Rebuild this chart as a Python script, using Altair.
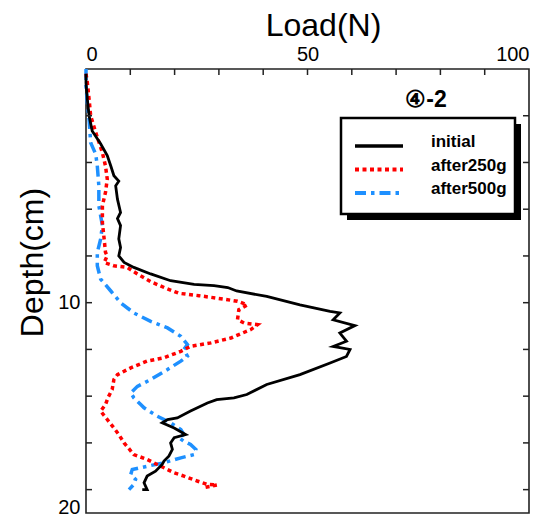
import altair as alt
import pandas as pd

# ---------------- data ----------------
series_names = ["initial", "after250g", "after500g"]
series_colors = ["#000000", "#FF0000", "#1E90FF"]

initial_load = [0.0, 0.0, 0.3, 0.7, 1.4, 3.3, 4.8, 5.6, 6.3, 7.4, 6.7, 7.1, 7.8, 7.1, 7.8,
                7.4, 7.8, 7.4, 8.6, 10.8, 14.6, 19.1, 24.4, 28.9, 32.0, 34.0, 40.8, 48.3,
                55.1, 57.3, 55.8, 60.7, 57.3, 58.8, 55.8, 59.6, 58.8, 55.1, 48.3, 40.8,
                36.3, 33.4, 29.5, 27.4, 23.6, 20.6, 18.4, 17.2, 19.9, 22.5, 19.9, 19.1,
                19.5, 18.7, 17.6, 17.2, 15.7, 13.8, 13.1, 13.8, 12.7]
initial_depth = [0.2, 0.6, 1.3, 2.0, 2.65, 3.2, 3.7, 4.15, 4.57, 4.8, 5.0, 5.57, 6.14, 6.4,
                 6.7, 7.27, 7.64, 8.0, 8.28, 8.49, 8.77, 9.06, 9.22, 9.27, 9.35, 9.5, 9.73,
                 10.09, 10.37, 10.44, 10.73, 10.98, 11.3, 11.65, 11.87, 12.0, 12.3, 12.58,
                 13.08, 13.5, 13.93, 14.07, 14.15, 14.29, 14.64, 14.93, 15.0, 15.14, 15.36,
                 15.64, 15.78, 16.0, 16.28, 16.57, 16.78, 16.92, 17.21, 17.42, 17.71, 18.0,
                 18.0]

after250_load = [0.0, 0.3, 0.7, 1.05, 2.2, 3.7, 4.4, 4.8, 4.4, 3.7, 3.7, 4.1, 4.4, 4.8, 4.1,
                 6.3, 9.3, 11.6, 14.6, 18.0, 21.0, 25.5, 31.2, 34.2, 36.4, 34.5, 34.2, 35.7,
                 38.7, 37.2, 32.7, 28.2, 23.6, 21.4, 17.6, 13.8, 10.1, 7.1, 6.3, 5.9, 5.0,
                 4.4, 3.3, 4.8, 6.3, 7.4, 8.6, 10.8, 13.8, 16.9, 19.9, 22.1, 25.1, 27.4,
                 29.6, 26.3]
after250_depth = [0.2, 0.58, 1.3, 2.0, 2.72, 3.58, 4.15, 4.71, 5.28, 5.85, 6.57, 7.28, 7.85,
                  7.99, 8.28, 8.42, 8.49, 8.77, 9.1, 9.38, 9.6, 9.7, 9.85, 9.94, 10.09,
                  10.3, 10.73, 10.87, 10.94, 11.15, 11.51, 11.72, 11.87, 12.08, 12.36,
                  12.5, 12.79, 13.08, 13.29, 13.72, 14.05, 14.36, 14.64, 15.0, 15.36,
                  15.64, 16.0, 16.5, 16.71, 17.0, 17.28, 17.42, 17.63, 17.78, 17.8, 17.92]

after500_load = [0.0, 0.0, 0.3, 0.7, 1.05, 2.2, 2.55, 2.9, 2.9, 3.7, 3.3, 2.55, 2.55, 3.3,
                 5.6, 7.8, 10.8, 14.6, 18.4, 21.4, 22.9, 22.1, 22.9, 21.4, 18.4, 14.6, 11.6,
                 10.1, 10.8, 12.3, 13.1, 16.1, 19.1, 21.4, 22.1, 21.0, 22.1, 23.6, 24.8,
                 24.4, 21.4, 17.6, 13.8, 10.45, 10.1, 11.2, 10.8, 9.7]
after500_depth = [0.0, 0.73, 1.44, 2.15, 3.15, 3.65, 4.15, 5.0, 5.85, 6.7, 7.28, 7.85, 8.42,
                  8.99, 9.5, 10.0, 10.44, 10.8, 11.08, 11.44, 11.79, 12.0, 12.29, 12.5,
                  12.86, 13.29, 13.58, 13.86, 14.07, 14.35, 14.5, 14.86, 15.14, 15.43,
                  15.64, 15.78, 15.93, 16.07, 16.28, 16.5, 16.64, 16.85, 17.0, 17.14,
                  17.35, 17.56, 17.78, 18.0]

x_tick_values = [0, 10, 20, 30, 40, 50, 60, 70, 80, 90, 100]
x_label_values = [0, 50, 100]
y_minor_ticks = [2, 4, 6, 8, 10, 12, 14, 16, 18]
y_label_values = [10, 19]
annotation_text = "④-2"

# ---------------- build tables ----------------
def table(load, depth, name):
    return pd.DataFrame({"load": load, "depth": depth, "series": name,
                         "idx": list(range(len(load)))})

curves = {
    "initial": table(initial_load, initial_depth, "initial"),
    "after250g": table(after250_load, after250_depth, "after250g"),
    "after500g": table(after500_load, after500_depth, "after500g"),
}

W, H = 443, 444
FONT = "Liberation Sans"

x_scale = alt.Scale(domain=[0, 100], nice=False, zero=False)
y_scale = alt.Scale(domain=[0, 19], reverse=True, nice=False, zero=False)

x_enc = alt.X("load:Q", scale=x_scale,
              axis=alt.Axis(orient="top", values=x_label_values, title="Load(N)",
                            labelPadding=5, titleX=237, titleY=-34,
                            titleBaseline="alphabetic", titleAlign="center"))
y_enc = alt.Y("depth:Q", scale=y_scale,
              axis=alt.Axis(values=y_label_values, title="Depth(cm)",
                            labelExpr="datum.value == 19 ? '20' : datum.label",
                            labelOffset={"condition": {"test": "datum.value == 19", "value": -6},
                                         "value": 0},
                            labelPadding=6, titleX=-54, titleY=193, titleAngle=270,
                            titleBaseline="middle", titleAlign="center"))

styles = {
    "initial": dict(color="#000000", strokeWidth=2.8),
    "after250g": dict(color="#FF0000", strokeWidth=3.5, strokeDash=[4, 3.5]),
    "after500g": dict(color="#1E90FF", strokeWidth=3.5, strokeDash=[11, 5, 3.5, 5]),
}

layers = []
for name in ["after500g", "after250g", "initial"]:
    layers.append(
        alt.Chart(curves[name]).mark_line(**styles[name]).encode(
            x=x_enc, y=y_enc, order="idx:Q"))

# inward tick marks
top_ticks = pd.DataFrame({"load": x_tick_values[1:-1]})
layers.append(alt.Chart(top_ticks).mark_rule(color="#222", strokeWidth=1.5).encode(
    x=x_enc, y=alt.value(0), y2=alt.value(6)))
side_ticks = pd.DataFrame({"depth": y_minor_ticks})
layers.append(alt.Chart(side_ticks).mark_rule(color="#222", strokeWidth=1.5).encode(
    y=y_enc, x=alt.value(0), x2=alt.value(6)))
layers.append(alt.Chart(side_ticks).mark_rule(color="#222", strokeWidth=1.5).encode(
    y=y_enc, x=alt.value(W - 6), x2=alt.value(W)))

# legend box with shadow
one = pd.DataFrame({"a": [0]})
layers.append(alt.Chart(one).mark_rect(color="#000").encode(
    x=alt.value(261), x2=alt.value(435), y=alt.value(55), y2=alt.value(151)))
layers.append(alt.Chart(one).mark_rect(fill="white", stroke="#000", strokeWidth=2.5).encode(
    x=alt.value(255), x2=alt.value(429), y=alt.value(49), y2=alt.value(145)))
for i, name in enumerate(series_names):
    st = styles[name]
    kw = dict(color=st["color"], strokeWidth=st["strokeWidth"] + 0.5)
    if "strokeDash" in st:
        kw["strokeDash"] = st["strokeDash"]
    ly = 77 + 23.5 * i
    layers.append(alt.Chart(one).mark_rule(**kw).encode(
        x=alt.value(269), x2=alt.value(317), y=alt.value(ly)))
    layers.append(alt.Chart(one).mark_text(
        text=name, font=FONT, fontSize=17, fontWeight="bold", align="left",
        baseline="middle", color="#000").encode(
        x=alt.value(345), y=alt.value(ly - 4)))

# panel label
layers.append(alt.Chart(one).mark_text(
    text=annotation_text, font=FONT, fontSize=23, fontWeight="bold",
    align="center", baseline="middle", color="#000").encode(
    x=alt.value(340), y=alt.value(31)))

chart = alt.layer(*layers).properties(
    width=W, height=H,
    autosize=alt.AutoSizeParams(type="none"),
    padding={"left": 78, "top": 61, "right": 20, "bottom": 4},
).configure_view(stroke="#222", strokeWidth=1.6).configure_axis(
    grid=False, domain=False, ticks=False,
    labelFont=FONT, labelFontSize=20, labelColor="#000",
    titleFont=FONT, titleFontSize=32, titleFontWeight="normal", titleColor="#000",
)

chart.save("out.html", embed_options={"renderer": "svg", "actions": False})
